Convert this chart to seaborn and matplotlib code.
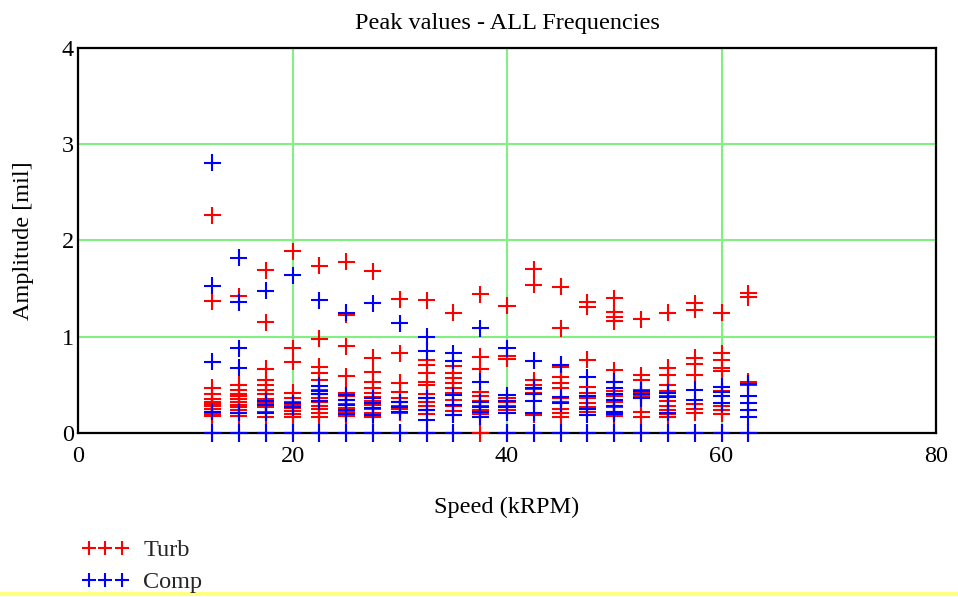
import matplotlib
matplotlib.use("Agg")
import matplotlib.pyplot as plt
from matplotlib.lines import Line2D
import numpy as np
import pandas as pd
import seaborn as sns

# Shaft speeds (kRPM) at which peaks were recorded
speeds = [12.5, 15, 17.5, 20, 22.5, 25, 27.5, 30, 32.5, 35, 37.5,
          40, 42.5, 45, 47.5, 50, 52.5, 55, 57.5, 60, 62.5]

# Turbine-end peak amplitudes (mil), one list per speed
turb = [
    [2.26, 1.37, 0.47, 0.40, 0.35, 0.32, 0.30, 0.28, 0.25, 0.22, 0.20, 0.18, 0.0],
    [1.42, 0.50, 0.45, 0.41, 0.38, 0.35, 0.32, 0.29, 0.27, 0.24, 0.21, 0.18, 0.0],
    [1.69, 1.15, 0.67, 0.55, 0.50, 0.45, 0.40, 0.35, 0.31, 0.27, 0.22, 0.17, 0.0],
    [1.89, 0.88, 0.74, 0.42, 0.36, 0.32, 0.29, 0.26, 0.23, 0.20, 0.17, 0.0],
    [1.74, 0.98, 0.69, 0.62, 0.55, 0.45, 0.40, 0.36, 0.32, 0.28, 0.25, 0.21, 0.17, 0.0],
    [1.78, 1.23, 0.90, 0.59, 0.42, 0.38, 0.34, 0.30, 0.26, 0.22, 0.18, 0.0],
    [1.68, 0.78, 0.63, 0.53, 0.47, 0.42, 0.37, 0.33, 0.29, 0.25, 0.21, 0.17, 0.0],
    [1.39, 0.83, 0.52, 0.43, 0.36, 0.32, 0.28, 0.25, 0.21, 0.0],
    [1.38, 0.76, 0.71, 0.62, 0.53, 0.50, 0.40, 0.36, 0.32, 0.28, 0.24, 0.20, 0.0],
    [1.25, 0.70, 0.62, 0.57, 0.52, 0.47, 0.42, 0.34, 0.28, 0.23, 0.19, 0.0],
    [1.44, 0.79, 0.67, 0.43, 0.38, 0.33, 0.28, 0.24, 0.20, 0.0],
    [1.32, 0.80, 0.77, 0.36, 0.32, 0.28, 0.24, 0.0],
    [1.70, 1.54, 0.55, 0.50, 0.46, 0.42, 0.19, 0.0],
    [1.52, 1.09, 0.69, 0.58, 0.52, 0.47, 0.36, 0.32, 0.25, 0.21, 0.17, 0.0],
    [1.36, 1.31, 0.76, 0.48, 0.42, 0.36, 0.31, 0.27, 0.22, 0.0],
    [1.40, 1.26, 1.21, 1.16, 0.65, 0.53, 0.44, 0.38, 0.32, 0.27, 0.22, 0.18, 0.0],
    [1.18, 0.60, 0.55, 0.45, 0.42, 0.38, 0.22, 0.17, 0.0],
    [1.25, 0.68, 0.60, 0.50, 0.44, 0.38, 0.33, 0.28, 0.24, 0.20, 0.17, 0.0],
    [1.35, 1.28, 0.78, 0.72, 0.60, 0.30, 0.25, 0.21, 0.0],
    [1.25, 0.83, 0.76, 0.68, 0.64, 0.44, 0.28, 0.24, 0.20, 0.0],
    [1.45, 1.41, 0.53, 0.50, 0.0],
]

# Compressor-end peak amplitudes (mil), one list per speed
comp = [
    [2.81, 1.53, 0.74, 0.22, 0.0],
    [1.82, 1.36, 0.88, 0.68, 0.21, 0.0],
    [1.48, 0.33, 0.29, 0.21, 0.0],
    [1.64, 0.31, 0.27, 0.0],
    [1.38, 0.49, 0.44, 0.40, 0.33, 0.0],
    [1.25, 0.39, 0.34, 0.29, 0.24, 0.20, 0.0],
    [1.35, 0.36, 0.31, 0.26, 0.19, 0.0],
    [1.14, 0.32, 0.27, 0.22, 0.0],
    [1.00, 0.85, 0.36, 0.24, 0.14, 0.0],
    [0.83, 0.75, 0.39, 0.29, 0.19, 0.0],
    [1.09, 0.53, 0.32, 0.27, 0.22, 0.17],
    [0.88, 0.39, 0.33, 0.27, 0.21, 0.0],
    [0.75, 0.47, 0.40, 0.33, 0.21, 0.0],
    [0.71, 0.37, 0.31, 0.0],
    [0.58, 0.38, 0.25, 0.19, 0.0],
    [0.53, 0.47, 0.40, 0.34, 0.28, 0.22, 0.20, 0.0],
    [0.44, 0.40, 0.36, 0.0],
    [0.42, 0.37, 0.21, 0.0],
    [0.45, 0.34, 0.0],
    [0.48, 0.43, 0.38, 0.31, 0.0],
    [0.51, 0.38, 0.31, 0.24, 0.17, 0.0],
]

series_names = ["Turb", "Comp"]
series_colors = {"Turb": "#ff0000", "Comp": "#0000ff"}
x_ticks = [0, 20, 40, 60, 80]
y_ticks = [0, 1, 2, 3, 4]

rows = []
for name, table in zip(series_names, [turb, comp]):
    for spd, vals in zip(speeds, table):
        for v in vals:
            rows.append({"speed": spd, "amp": v, "series": name})
df = pd.DataFrame(rows)

sns.set_theme(style="white")
plt.rcParams["font.family"] = ["Liberation Serif", "DejaVu Serif"]
FS = 17.5

fig = plt.figure(figsize=(9.58, 5.97), dpi=100)
ax = fig.add_axes([78 / 958, 1 - 433 / 597, (936 - 78) / 958, (433 - 48) / 597])

sns.scatterplot(data=df, x="speed", y="amp", hue="series", palette=series_colors,
                marker="+", s=150, linewidth=1.5, legend=False, ax=ax,
                clip_on=False, zorder=3)

ax.set_xlim(0, 80)
ax.set_ylim(0, 4)
ax.set_xticks(x_ticks)
ax.set_yticks(y_ticks)
ax.grid(True, color="#80f080", linewidth=1.5)
ax.set_axisbelow(True)
for sp in ax.spines.values():
    sp.set_visible(True)
    sp.set_color("black")
    sp.set_linewidth(1.6)
    sp.set_zorder(2.5)
ax.tick_params(axis="both", length=0, labelsize=FS, colors="black")
ax.tick_params(axis="x", pad=9)
ax.tick_params(axis="y", pad=3)

ax.set_title("Peak values - ALL Frequencies", fontsize=FS, pad=14, color="black")
ax.set_xlabel("Speed (kRPM)", fontsize=FS, labelpad=22, color="black")
ax.set_ylabel("Amplitude [mil]", fontsize=FS, labelpad=20, color="black")

handles = [Line2D([], [], linestyle="none", marker="+", markersize=10.5,
                  markeredgewidth=1.5, color=series_colors[n]) for n in series_names]
fig.legend(handles, series_names, loc="upper left",
           bbox_to_anchor=(69.5 / 958, 1 - 527 / 597), frameon=False, numpoints=3,
           fontsize=FS, borderpad=0, handlelength=1.95, handletextpad=0.58,
           labelspacing=0.42)

fig.add_artist(Line2D([0, 1], [1 - 594 / 597] * 2, color="#ffff80", linewidth=3,
                      transform=fig.transFigure))

fig.savefig("out.png", dpi=100)
